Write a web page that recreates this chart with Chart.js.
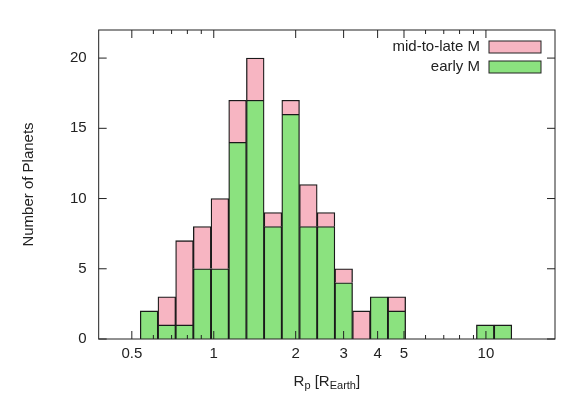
<!DOCTYPE html>
<html>
<head>
<meta charset="utf-8">
<script src="https://cdn.jsdelivr.net/npm/chart.js@4"></script>
<style>
body { margin: 0; background: #fff; }
#wrap { width: 580px; height: 403px; }
</style>
</head>
<body>
<div id="wrap"><canvas id="myChart"></canvas></div>
<script>
// bin centres in log10(Rp), bins 0.065 dex wide
const binCenters = [-0.2375, -0.1725, -0.1075, -0.0425, 0.0225, 0.0875, 0.1525, 0.2175, 0.2825, 0.3475,
                    0.4125, 0.4775, 0.5425, 0.6075, 0.6725, 0.7375, 0.8025, 0.8675, 0.9325, 0.9975, 1.0625];
const earlyM = [2, 1, 1, 5, 5, 14, 17, 8, 16, 8, 8, 4, 0, 3, 2, 0, 0, 0, 0, 1, 1];
const midLateM = [0, 2, 6, 3, 5, 3, 3, 1, 1, 3, 1, 1, 2, 0, 1, 0, 0, 0, 0, 0, 0];
const xTickValues = [0.5, 1, 2, 3, 4, 5, 10];
const xMinorValues = [0.6, 0.7, 0.8, 0.9, 6, 7, 8, 9];
const yTickValues = [0, 5, 10, 15, 20];

const font = '"Liberation Sans", Arial, sans-serif';

const framePlugin = {
    id: 'frame',
    afterDraw(chart) {
        const c = chart.ctx, a = chart.chartArea;
        const xs = chart.scales.x, ys = chart.scales.y;
        c.save();
        c.strokeStyle = '#222';
        c.lineWidth = 1;
        c.strokeRect(a.left, a.top, a.right - a.left, a.bottom - a.top);
        c.beginPath();
        xTickValues.forEach(v => {
            const px = xs.getPixelForValue(Math.log10(v));
            c.moveTo(px, a.bottom); c.lineTo(px, a.bottom - 8);
            c.moveTo(px, a.top); c.lineTo(px, a.top + 8);
        });
        xMinorValues.forEach(v => {
            const px = xs.getPixelForValue(Math.log10(v));
            c.moveTo(px, a.bottom); c.lineTo(px, a.bottom - 4);
            c.moveTo(px, a.top); c.lineTo(px, a.top + 4);
        });
        yTickValues.forEach(v => {
            const py = ys.getPixelForValue(v);
            c.moveTo(a.left, py); c.lineTo(a.left + 8, py);
            c.moveTo(a.right, py); c.lineTo(a.right - 8, py);
        });
        c.stroke();

        // legend, gnuplot style
        c.font = '15px ' + font;
        c.textAlign = 'right';
        c.textBaseline = 'middle';
        const items = [chart.data.datasets[1], chart.data.datasets[0]];
        items.forEach((ds, i) => {
            const y = 47 + i * 20;
            c.fillStyle = '#222';
            c.fillText(ds.label, 480, y);
            c.fillStyle = ds.backgroundColor;
            c.fillRect(489, y - 6, 52, 12);
            c.strokeStyle = '#222';
            c.strokeRect(489, y - 6, 52, 12);
        });

        // x title with subscripts
        const cx = (a.left + a.right) / 2;
        const ty = 382;
        const parts = [['R', 15, 0], ['p', 11, 4], [' [R', 15, 0], ['Earth', 11, 4], [']', 15, 0]];
        let w = 0;
        parts.forEach(p => { c.font = p[1] + 'px ' + font; w += c.measureText(p[0]).width; });
        let x = cx - w / 2;
        c.textAlign = 'left';
        c.fillStyle = '#222';
        parts.forEach(p => {
            c.font = p[1] + 'px ' + font;
            c.fillText(p[0], x, ty + p[2]);
            x += c.measureText(p[0]).width;
        });
        c.restore();
    }
};

const ctx = document.getElementById('myChart').getContext('2d');
const myChart = new Chart(ctx, {
    type: 'bar',
    data: {
        datasets: [{
            label: 'early M',
            data: binCenters.map((x, i) => ({ x: x, y: earlyM[i] })),
            backgroundColor: '#8be27f',
            borderColor: '#1a1a1a',
            borderWidth: 1.3,
            barPercentage: 1,
            categoryPercentage: 1
        }, {
            label: 'mid-to-late M',
            data: binCenters.map((x, i) => ({ x: x, y: midLateM[i] })),
            backgroundColor: '#f7b5c2',
            borderColor: '#1a1a1a',
            borderWidth: 1.3,
            barPercentage: 1,
            categoryPercentage: 1
        }]
    },
    options: {
        responsive: true,
        maintainAspectRatio: false,
        animation: false,
        layout: { padding: { left: 16, right: 25, top: 30, bottom: 8 } },
        plugins: { legend: { display: false }, tooltip: { enabled: false } },
        scales: {
            x: {
                type: 'linear',
                stacked: true,
                min: -0.303,
                max: 1.134,
                afterBuildTicks(axis) {
                    axis.ticks = xTickValues.map(v => ({ value: Math.log10(v) }));
                },
                ticks: {
                    autoSkip: false,
                    maxRotation: 0,
                    color: '#222',
                    font: { family: font, size: 15 },
                    padding: 6,
                    callback: (v) => String(Math.round(Math.pow(10, v) * 10) / 10)
                },
                grid: { display: false, drawTicks: false },
                border: { display: false },
                title: { display: true, text: ' ', font: { size: 15 }, padding: { top: 4 } }
            },
            y: {
                stacked: true,
                min: 0,
                max: 22,
                afterBuildTicks(axis) {
                    axis.ticks = yTickValues.map(v => ({ value: v }));
                },
                ticks: { color: '#222', font: { family: font, size: 15 }, padding: 12 },
                grid: { display: false, drawTicks: false },
                border: { display: false },
                title: {
                    display: true,
                    text: 'Number of Planets',
                    color: '#222',
                    font: { family: font, size: 15 },
                    padding: { bottom: 20 }
                }
            }
        }
    },
    plugins: [framePlugin]
});
</script>
</body>
</html>
